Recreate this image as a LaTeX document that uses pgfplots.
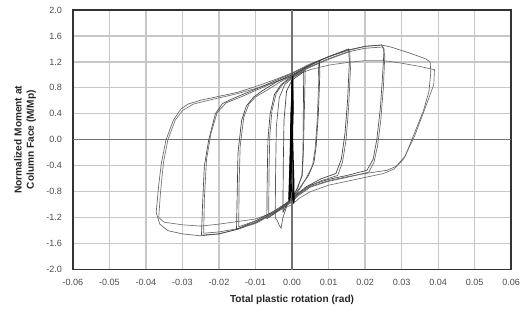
\documentclass[border=0pt]{standalone}
\usepackage{pgfplots}
\pgfplotsset{compat=1.18}
\usepackage{fontspec}
\setmainfont{Liberation Sans}
\begin{document}
\begin{tikzpicture}
\begin{axis}[
  scale only axis,
  width=329.25pt, height=195pt,
  xmin=-0.06, xmax=0.06, ymin=-2.0, ymax=2.0,
  scaled ticks=false,
  xtick={-0.06,-0.05,...,0.061}, ytick={-2.0,-1.6,...,2.01},
  /pgf/number format/assume math mode=true,
  xticklabel style={/pgf/number format/fixed, /pgf/number format/fixed zerofill, /pgf/number format/precision=2, inner sep=0pt, yshift=-7pt},
  yticklabel style={/pgf/number format/fixed, /pgf/number format/fixed zerofill, /pgf/number format/precision=1, inner sep=0pt, xshift=-8pt},
  ticklabel style={font=\fontsize{6.8}{8}\selectfont, text=black!70},
  major tick length=0pt,
  grid=major,
  major grid style={black!22, line width=0.9pt},
  axis line style={black!80, line width=1.1pt},
  extra x ticks={0}, extra y ticks={0}, extra x tick labels={}, extra y tick labels={},
  extra tick style={grid=major, major grid style={black!55, line width=0.9pt}},
  xlabel={Total plastic rotation (rad)},
  ylabel={Normalized Moment at\\Column Face (M/Mp)},
  label style={font=\fontsize{7.6}{9.2}\selectfont\bfseries, text=black!85},
  xlabel style={at={(axis description cs:0.5,-0.115)}, anchor=center},
  ylabel style={at={(axis description cs:-0.109,0.5)}, anchor=center, align=center},
  clip=true,
]
% outer loop, cycle 1
\addplot[black!60, line width=0.5pt] coordinates {
(-0.0372,-1.12) (-0.0365,-0.7) (-0.0358,-0.37) (-0.0345,0) (-0.0325,0.3) (-0.0305,0.47) (-0.0285,0.55) (-0.025,0.61) (-0.02,0.67) (-0.015,0.73) (-0.01,0.82) (-0.005,0.92) (0,1.03) (0.005,1.17) (0.01,1.28) (0.015,1.37) (0.02,1.44) (0.0245,1.46) (0.027,1.43) (0.032,1.34) (0.0365,1.25) (0.0378,1.2) (0.038,1.05) (0.0375,0.75) (0.036,0.45) (0.0335,0.1) (0.031,-0.25) (0.0285,-0.41) (0.026,-0.47) (0.02,-0.52) (0.015,-0.57) (0.01,-0.63) (0.005,-0.72) (0.0015,-0.85) (0,-0.95) (-0.005,-1.12) (-0.01,-1.27) (-0.015,-1.38) (-0.02,-1.45) (-0.025,-1.48) (-0.03,-1.45) (-0.034,-1.4) (-0.0362,-1.3) (-0.0372,-1.12)};
% outer loop, cycle 2
\addplot[black!55, line width=0.5pt] coordinates {
(-0.0365,-1.2) (-0.036,-0.8) (-0.0352,-0.35) (-0.034,0) (-0.032,0.3) (-0.030,0.45) (-0.027,0.55) (-0.022,0.62) (-0.015,0.71) (-0.01,0.79) (-0.005,0.88) (0,0.98) (0.005,1.08) (0.01,1.15) (0.015,1.19) (0.02,1.22) (0.025,1.22) (0.03,1.18) (0.035,1.13) (0.039,1.08) (0.0388,0.85) (0.0362,0.45) (0.0335,0.05) (0.0305,-0.3) (0.028,-0.45) (0.025,-0.52) (0.02,-0.58) (0.015,-0.64) (0.01,-0.7) (0.005,-0.8) (0.002,-0.9) (0,-1.0) (-0.005,-1.12) (-0.01,-1.22) (-0.02,-1.3) (-0.025,-1.33) (-0.03,-1.31) (-0.035,-1.27) (-0.0365,-1.2)};
% 0.025 loops
\addplot[black!70, line width=0.5pt] coordinates {
(-0.0248,-1.47) (-0.0245,-1.0) (-0.024,-0.4) (-0.0228,0) (-0.021,0.4) (-0.019,0.56) (-0.016,0.64) (-0.01,0.78) (-0.005,0.9) (0,1.02) (0.005,1.16) (0.01,1.28) (0.015,1.38) (0.02,1.44) (0.0245,1.46) (0.0252,1.4) (0.0248,1.0) (0.0242,0.5) (0.0232,0.0) (0.0222,-0.3) (0.0205,-0.47) (0.015,-0.55) (0.01,-0.61) (0.005,-0.7) (0.0015,-0.84) (0,-0.93) (-0.005,-1.12) (-0.01,-1.28) (-0.015,-1.38) (-0.02,-1.45) (-0.0248,-1.47)};
\addplot[black!60, line width=0.5pt] coordinates {
(-0.0242,-1.44) (-0.0240,-0.9) (-0.0234,-0.3) (-0.0222,0.1) (-0.0205,0.42) (-0.018,0.57) (-0.014,0.66) (-0.01,0.76) (-0.005,0.88) (0,1.0) (0.005,1.13) (0.01,1.25) (0.015,1.35) (0.02,1.41) (0.0248,1.43) (0.0254,1.3) (0.025,0.8) (0.0243,0.3) (0.0234,-0.1) (0.0224,-0.35) (0.021,-0.5) (0.015,-0.58) (0.01,-0.64) (0.005,-0.73) (0.0015,-0.87) (0,-0.96) (-0.005,-1.14) (-0.01,-1.29) (-0.015,-1.37) (-0.02,-1.42) (-0.0242,-1.44)};
% 0.015 loops
\addplot[black!75, line width=0.5pt] coordinates {
(-0.0152,-1.38) (-0.015,-0.8) (-0.0148,-0.2) (-0.0138,0.3) (-0.0125,0.52) (-0.0105,0.66) (-0.008,0.76) (-0.004,0.9) (0,1.0) (0.005,1.15) (0.01,1.28) (0.0155,1.4) (0.0157,1.2) (0.0152,0.6) (0.0145,0.1) (0.0135,-0.3) (0.012,-0.52) (0.008,-0.6) (0.004,-0.72) (0.001,-0.85) (0,-0.92) (-0.005,-1.1) (-0.01,-1.25) (-0.0152,-1.38)};
\addplot[black!60, line width=0.5pt] coordinates {
(-0.0146,-1.34) (-0.0145,-0.7) (-0.0142,-0.1) (-0.0132,0.35) (-0.0118,0.55) (-0.01,0.66) (-0.007,0.76) (-0.003,0.9) (0,0.98) (0.005,1.12) (0.01,1.24) (0.0158,1.36) (0.016,1.1) (0.0155,0.5) (0.0148,0.0) (0.0138,-0.35) (0.0125,-0.55) (0.008,-0.63) (0.004,-0.74) (0.001,-0.88) (0,-0.95) (-0.005,-1.12) (-0.01,-1.25) (-0.0146,-1.34)};
% 0.0075 loops
\addplot[black!75, line width=0.5pt] coordinates {
(-0.0069,-1.22) (-0.0068,-0.6) (-0.0066,0.0) (-0.006,0.4) (-0.0048,0.7) (-0.003,0.85) (0,0.98) (0.004,1.12) (0.0075,1.22) (0.0076,1.0) (0.0072,0.4) (0.0066,-0.1) (0.006,-0.35) (0.0045,-0.55) (0.002,-0.75) (0,-0.9) (-0.003,-1.05) (-0.0069,-1.22)};
\addplot[black!60, line width=0.5pt] coordinates {
(-0.0064,-1.2) (-0.0063,-0.5) (-0.0061,0.05) (-0.0055,0.45) (-0.0043,0.72) (-0.0025,0.86) (0,0.96) (0.004,1.1) (0.0072,1.18) (0.0073,0.9) (0.0069,0.3) (0.0063,-0.15) (0.0056,-0.4) (0.004,-0.58) (0.002,-0.77) (0,-0.92) (-0.003,-1.07) (-0.0064,-1.2)};
% small loops
\addplot[black!75, line width=0.5pt] coordinates {
(-0.0025,-1.12) (-0.0024,-0.4) (-0.0022,0.3) (-0.0015,0.75) (0,0.92) (0.0025,1.02) (0.0032,1.05) (0.0031,0.5) (0.003,-0.2) (0.0027,-0.55) (0.0015,-0.75) (0,-0.88) (-0.0015,-1.0) (-0.0025,-1.12)};
\addplot[black!65, line width=0.5pt] coordinates {
(-0.0046,-1.2) (-0.0045,-0.5) (-0.0043,0.2) (-0.0035,0.65) (-0.002,0.85) (0,0.95) (0.003,1.05) (0.0036,1.07) (0.0034,0.5) (0.0031,-0.2) (0.0028,-0.55) (0.001,-0.8) (-0.001,-0.95) (-0.0025,-1.2) (-0.003,-1.36) (-0.0035,-1.32) (-0.004,-1.25) (-0.0046,-1.2)};
% elastic cycles
\addplot[black, line width=0.8pt] coordinates {
(-0.0008,-0.95) (-0.0002,-0.3) (0.0002,0.4) (0.0002,0.98) (-0.0003,0.4) (-0.0005,-0.3) (-0.0009,-0.92)};
\addplot[black, line width=0.8pt] coordinates {
(-0.0005,-0.9) (0.0,-0.2) (0.0003,0.5) (0.0001,0.95) (-0.0002,0.3) (-0.0006,-0.5) (0.0003,-0.94)};
\addplot[black, line width=0.6pt] coordinates {
(0.0004,-0.98) (0.0002,-0.2) (0.0,0.6) (-0.0001,0.92) (0.0001,0.2) (0.0005,-0.6) (0.0006,-0.96)};
\end{axis}
\path ([xshift=-54.75pt,yshift=-30pt]current axis.south west) rectangle ([xshift=6pt,yshift=7.5pt]current axis.north east);
\end{tikzpicture}
\end{document}
